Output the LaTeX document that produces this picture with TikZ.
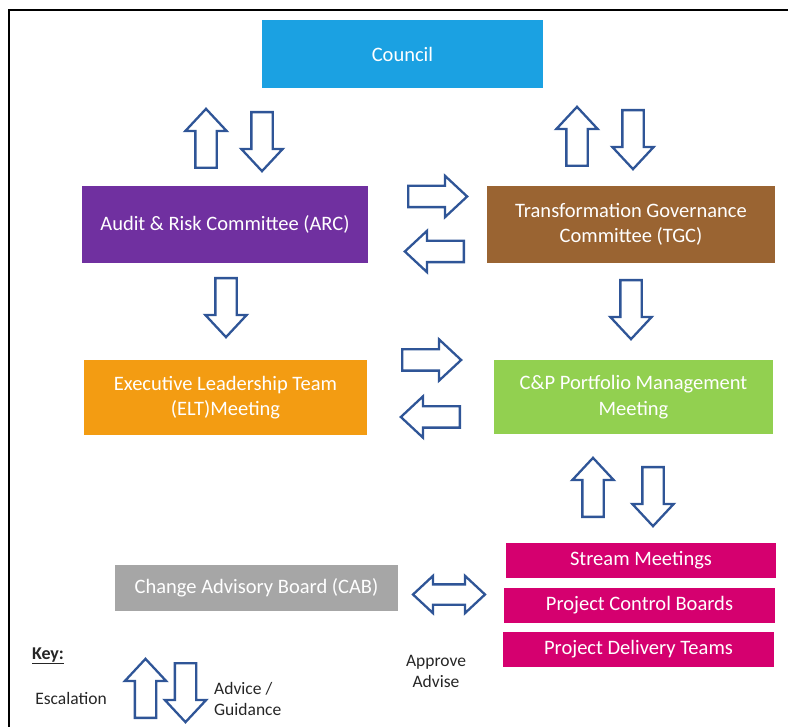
\documentclass[tikz,border=0pt]{standalone}
\usepackage{fontspec}
\setmainfont{Carlito}
\usetikzlibrary{shapes.arrows}

\definecolor{councilblue}{HTML}{1BA1E2}
\definecolor{arcpurple}{HTML}{7030A0}
\definecolor{tgcbrown}{HTML}{9A6432}
\definecolor{eltorange}{HTML}{F39C12}
\definecolor{cpgreen}{HTML}{92D050}
\definecolor{cabgrey}{HTML}{A6A6A6}
\definecolor{streampink}{HTML}{D5006F}
\definecolor{arrowblue}{HTML}{2F5597}
\definecolor{keygrey}{HTML}{262626}

\begin{document}
\begin{tikzpicture}[x=1pt, y=-1pt,
    box/.style={anchor=center, text=white, align=center, inner sep=0pt,
      font=\fontsize{20.5}{25.5}\selectfont},
    keytext/.style={anchor=center, text=keygrey, align=left, inner sep=0pt,
      font=\fontsize{17.5}{21}\selectfont},
    blk/.style={shape=single arrow, draw=arrowblue, fill=white, line width=2.3pt,
      minimum height=59pt, minimum width=0pt, inner xsep=0pt, inner ysep=9.5pt,
      single arrow head extend=10pt, single arrow tip angle=86, anchor=tail}]
      \useasboundingbox (0,0) rectangle (788,727);
      \draw[line width=2.2pt] (9,10) rectangle (800,740);

      % committees
      \node[box, fill=councilblue, minimum width=281pt, minimum height=68pt] (council) at (402.5,54) {Council};
      \node[box, fill=arcpurple, minimum width=286pt, minimum height=77pt] (arc) at (225,224.5) {Audit \& Risk Committee (ARC)};
      \node[box, fill=tgcbrown, minimum width=288pt, minimum height=77pt] (tgc) at (631,224.5) {Transformation Governance\\Committee (TGC)};
      \node[box, fill=eltorange, minimum width=283pt, minimum height=75pt] (elt) at (225.5,397.5) {Executive Leadership Team\\(ELT)Meeting};
      \node[box, fill=cpgreen, minimum width=279pt, minimum height=74pt] (cp) at (633.5,397) {C\&P Portfolio Management\\Meeting};
      \node[box, fill=cabgrey, minimum width=283pt, minimum height=46pt] (cab) at (256.5,588) {Change Advisory Board (CAB)};
      \node[box, fill=streampink, minimum width=270pt, minimum height=35pt] (stream) at (641,560.5) {Stream Meetings};
      \node[box, fill=streampink, minimum width=271pt, minimum height=35pt] (pcb) at (639.5,605.5) {Project Control Boards};
      \node[box, fill=streampink, minimum width=271pt, minimum height=35pt] (pdt) at (638.5,649.5) {Project Delivery Teams};

      % escalation / advice arrows (placed by their tails)
      \node[blk, rotate=90] (arcup) at (206,169) {};
      \node[blk, rotate=-90] (arcdown) at (262,111) {};
      \node[blk, rotate=90] (tgcup) at (577,167) {};
      \node[blk, rotate=-90] (tgcdown) at (633,109) {};
      \node[blk] (totgc) at (407,196.5) {};
      \node[blk, rotate=180] (toarc) at (465,251.5) {};
      \node[blk, rotate=-90] (toelt) at (226,277) {};
      \node[blk, rotate=-90] (tocp) at (631,279) {};
      \node[blk] (eltcp) at (401,360) {};
      \node[blk, rotate=180] (cpelt) at (461,417) {};
      \node[blk, rotate=90] (streamup) at (593,518) {};
      \node[blk, rotate=-90] (streamdown) at (653,466) {};
      \node[shape=double arrow, draw=arrowblue, fill=white, line width=2.3pt,
        minimum height=72pt, minimum width=0pt, inner xsep=0pt, inner ysep=9pt,
        double arrow head extend=8.5pt, double arrow tip angle=86] (cabstream) at (449,594.5) {};
      \node[keytext, align=center] (approve) at (436,671) {Approve\\Advise};

      % key
      \node[keytext, font=\fontsize{18}{21}\selectfont\bfseries] (key) at (48,656) {\underline{Key:}};
      \node[keytext] (escalation) at (71,698) {Escalation};
      \node[blk, rotate=90] (keyup) at (145.5,719) {};
      \node[blk, rotate=-90] (keydown) at (185.5,662) {};
      \node[keytext, anchor=west] (advice) at (214,699) {Advice /\\Guidance};
\end{tikzpicture}
\end{document}
